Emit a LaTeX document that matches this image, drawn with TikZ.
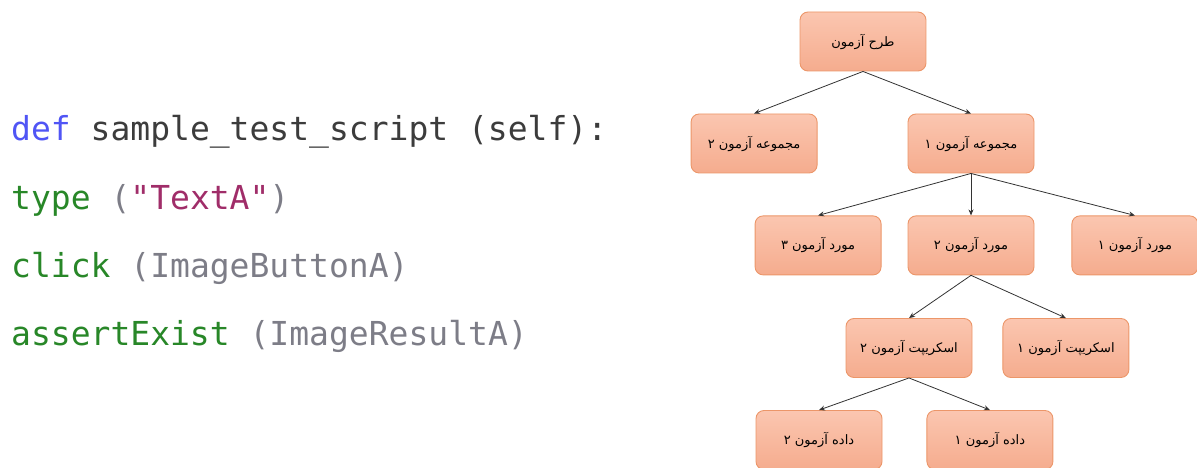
\documentclass[tikz,border=0pt]{standalone}
\usepackage{fontspec}
\setmonofont{DejaVu Sans Mono}
\newfontfamily\farsi[Script=Arabic]{DejaVu Sans}
\TeXXeTstate=1
\usepackage{tikz}
\usetikzlibrary{arrows.meta,positioning}
\definecolor{kwblue}{RGB}{80,85,245}
\definecolor{kwgreen}{RGB}{40,135,40}
\definecolor{strpurple}{RGB}{160,45,105}
\definecolor{argray}{RGB}{125,125,135}
\definecolor{codedark}{RGB}{60,60,60}
\definecolor{boxtop}{RGB}{251,198,176}
\definecolor{boxbot}{RGB}{245,172,142}
\definecolor{boxline}{RGB}{236,150,105}

\begin{document}
\begin{tikzpicture}[
    x=1pt, y=-1pt,
    node distance=42pt and 26pt,
    every node/.style={font=\farsi\fontsize{13}{15}\selectfont},
    block/.style={
      rectangle, draw=boxline, line width=0.9pt, rounded corners=8pt,
      minimum width=126pt, minimum height=59pt,
      align=center, top color=boxtop, bottom color=boxbot
    },
    code/.style={anchor=base west, inner sep=0pt,
      font=\ttfamily\fontsize{33}{36}\selectfont, text=codedark},
    arr/.style={-{Stealth[length=6pt,width=5pt]}, line width=0.8pt, draw=black!80}
  ]
  \useasboundingbox (0,0) rectangle (1197,468);

  % Script listing
  \node[code] (line1) at (11,141) {\textcolor{kwblue}{def} sample\_test\_script (self):};
  \node[code] (line2) at (11,209) {\textcolor{kwgreen}{type} \textcolor{argray}{(}\textcolor{strpurple}{"TextA"}\textcolor{argray}{)}};
  \node[code] (line3) at (11,277) {\textcolor{kwgreen}{click} \textcolor{argray}{(ImageButtonA)}};
  \node[code] (line4) at (11,345) {\textcolor{kwgreen}{assertExist} \textcolor{argray}{(ImageResultA)}};

  % Test hierarchy
  \node[block] (root) at (863,41.5) {\beginR طرح آزمون\endR};
  \node[block] (set1) at (971,143.5) {\beginR مجموعه آزمون ۱\endR};
  \node[block, left=90pt of set1] (set2) {\beginR مجموعه آزمون ۲\endR};
  \node[block, below=of set1] (case2) {\beginR مورد آزمون ۲\endR};
  \node[block, left=of case2] (case3) {\beginR مورد آزمون ۳\endR};
  \node[block, right=37pt of case2] (case1) {\beginR مورد آزمون ۱\endR};
  \node[block] (script2) at (909,348) {\beginR اسکریپت آزمون ۲\endR};
  \node[block, right=30pt of script2] (script1) {\beginR اسکریپت آزمون ۱\endR};
  \node[block] (data2) at (819,440) {\beginR داده آزمون ۲\endR};
  \node[block, right=44pt of data2] (data1) {\beginR داده آزمون ۱\endR};

  % Arrows
  \draw[arr] (root.south) -- (set2.north);
  \draw[arr] (root.south) -- (set1.north);
  \draw[arr] (set1.south) -- (case3.north);
  \draw[arr] (set1.south) -- (case2.north);
  \draw[arr] (set1.south) -- (case1.north);
  \draw[arr] (case2.south) -- (script2.north);
  \draw[arr] (case2.south) -- (script1.north);
  \draw[arr] (script2.south) -- (data2.north);
  \draw[arr] (script2.south) -- (data1.north);

\end{tikzpicture}
\end{document}
